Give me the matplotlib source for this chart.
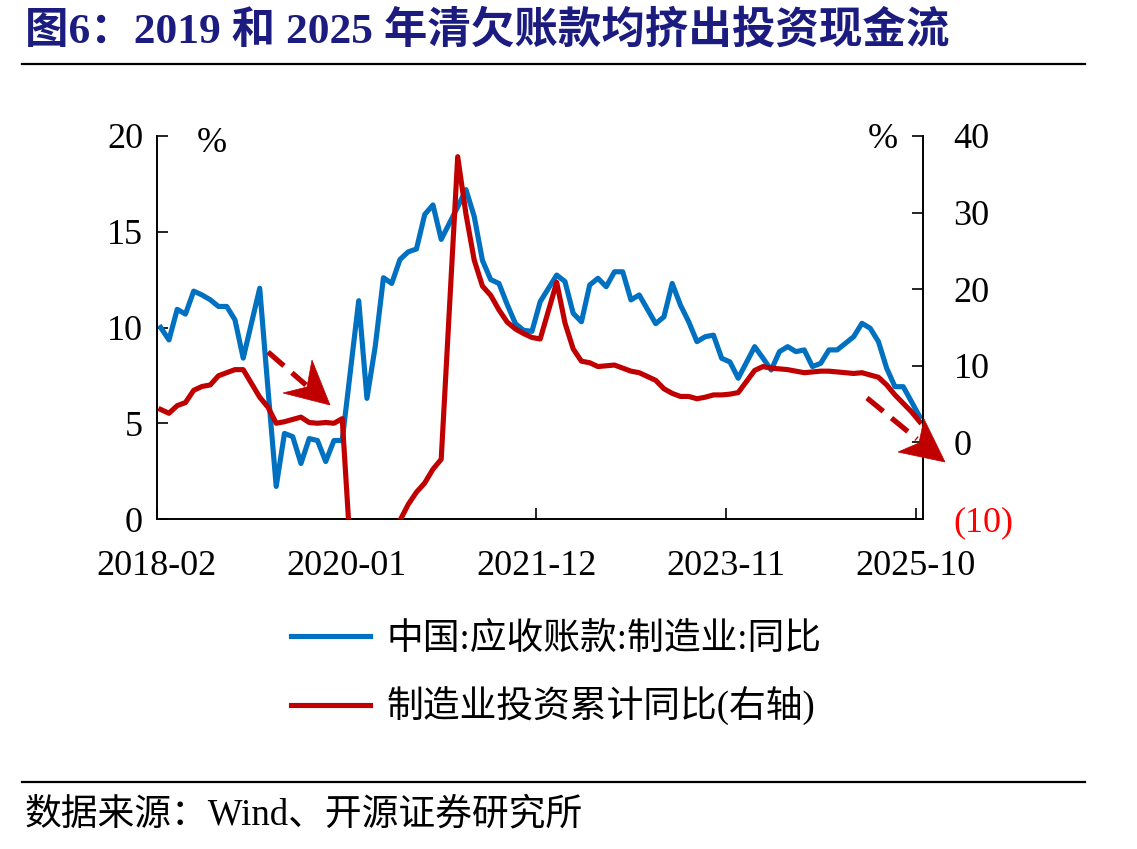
import matplotlib
matplotlib.use("Agg")
import matplotlib.pyplot as plt
from matplotlib.patches import Polygon
from matplotlib.lines import Line2D
from matplotlib.font_manager import FontProperties

# ---------------- data (monthly, Feb..Dec; January not published) ----------------
years = [2018, 2019, 2020, 2021, 2022, 2023, 2024, 2025]

# 中国:应收账款:制造业:同比 (%)
recv_2018 = [10.0, 9.35, 10.95, 10.7, 11.9, 11.7, 11.45, 11.1, 11.1, 10.4, 8.4]
recv_2019 = [12.05, 6.8, 1.7, 4.47, 4.3, 2.9, 4.2, 4.1, 3.0, 4.1, 4.1]
recv_2020 = [11.4, 6.3, 9.0, 12.6, 12.3, 13.55, 13.95, 14.1, 15.9, 16.4, 14.6]
recv_2021 = [16.3, 17.2, 15.8, 13.5, 12.5, 12.3, 11.2, 10.2, 9.85, 9.8, 11.35]
recv_2022 = [12.74, 12.4, 10.74, 10.3, 12.22, 12.57, 12.13, 12.91, 12.91, 11.44, 11.7]
recv_2023 = [10.2, 10.56, 12.3, 11.17, 10.3, 9.26, 9.52, 9.6, 8.39, 8.2, 7.35]
recv_2024 = [9.0, 8.4, 7.78, 8.74, 9.0, 8.74, 8.83, 7.96, 8.13, 8.83, 8.83]
recv_2025 = [9.52, 10.22, 9.96, 9.26, 7.87, 6.91, 6.91, 6.13, 5.34]

# 制造业投资累计同比 (%), right axis
inv_2018 = [4.3, 3.8, 4.8, 5.2, 6.8, 7.3, 7.5, 8.7, 9.1, 9.5, 9.5]
inv_2019 = [5.9, 4.6, 2.5, 2.7, 3.0, 3.3, 2.6, 2.5, 2.6, 2.5, 3.1]
inv_2020 = [-31.5, -25.2, -18.8, -14.8, -11.7, -10.2, -8.1, -6.5, -5.3, -3.5, -2.2]
inv_2021 = [37.3, 29.8, 23.8, 20.4, 19.2, 17.3, 15.7, 14.8, 14.2, 13.7, 13.5]
inv_2022 = [20.9, 15.6, 12.2, 10.6, 10.4, 9.9, 10.0, 10.1, 9.7, 9.3, 9.1]
inv_2023 = [8.1, 7.0, 6.4, 6.0, 6.0, 5.7, 5.9, 6.2, 6.2, 6.3, 6.5]
inv_2024 = [9.4, 9.9, 9.7, 9.6, 9.5, 9.3, 9.1, 9.2, 9.3, 9.3, 9.2]
inv_2025 = [9.0, 9.1, 8.8, 8.5, 7.5, 6.2, 5.1, 4.0, 2.7]

x_tick_labels = ["2018-02", "2020-01", "2021-12", "2023-11", "2025-10"]
left_ticks = [0, 5, 10, 15, 20]
right_ticks = [-10, 0, 10, 20, 30, 40]

label_recv = "中国:应收账款:制造业:同比"
label_inv = "制造业投资累计同比(右轴)"
title = "图6：2019 和 2025 年清欠账款均挤出投资现金流"
source = "数据来源：Wind、开源证券研究所"

# ---------------- helpers ----------------
def month_index(label):
    y, m = label.split("-")
    return (int(y) - 2018) * 12 + (int(m) - 2)

def build(lists):
    xs, ys = [], []
    for yr, vals in zip(years, lists):
        for k, v in enumerate(vals):
            xs.append((yr - 2018) * 12 + k)
            ys.append(v)
    return xs, ys

rx, ry = build([recv_2018, recv_2019, recv_2020, recv_2021, recv_2022, recv_2023, recv_2024, recv_2025])
ix, iy = build([inv_2018, inv_2019, inv_2020, inv_2021, inv_2022, inv_2023, inv_2024, inv_2025])

BLUE = "#0070C0"
RED = "#C00000"
SERIF = "Liberation Serif"
CJK = "Noto Sans CJK SC"
FW, FH = 1137, 849

fig = plt.figure(figsize=(FW / 100, FH / 100), dpi=100)
ax = fig.add_axes([157 / FW, 1 - 519 / FH, (923 - 157) / FW, (519 - 136) / FH])
ax2 = ax.twinx()

ax.plot(rx, ry, color=BLUE, lw=3.7, solid_joinstyle="round", label=label_recv)
ax2.plot(ix, iy, color=RED, lw=3.7, solid_joinstyle="round", label=label_inv)

ax.set_xlim(-0.4, 92.4)
ax.set_ylim(0, 20)
ax2.set_ylim(-10, 40)

tick_pos = [month_index(l) - 0.45 for l in x_tick_labels]
ax.set_xticks(tick_pos)
ax.set_xticklabels(x_tick_labels, fontfamily=SERIF, fontsize=26)
ax.set_yticks(left_ticks)
ax.set_yticklabels([str(t) for t in left_ticks], fontfamily=SERIF, fontsize=26)
ax2.set_yticks(right_ticks)
ax2.set_yticklabels([f"({abs(t)})" if t < 0 else str(t) for t in right_ticks],
                    fontfamily=SERIF, fontsize=26)
for lab, t in zip(ax2.get_yticklabels(), right_ticks):
    if t < 0:
        lab.set_color("red")

for a in (ax, ax2):
    a.spines["top"].set_visible(False)
    for s in a.spines.values():
        s.set_linewidth(1.4)
ax.spines["right"].set_visible(False)
ax2.spines["left"].set_visible(False)
ax2.spines["bottom"].set_visible(False)

ax.tick_params(axis="x", direction="in", length=8, width=1.2, pad=22)
ax.tick_params(axis="y", direction="in", length=8, width=1.2, pad=10)
ax2.tick_params(axis="y", direction="in", length=8, width=1.2, pad=22)

# % units
fig.text(212 / FW, 1 - 143 / FH, "%", fontfamily=SERIF, fontsize=26, ha="center", va="center")
fig.text(883 / FW, 1 - 140 / FH, "%", fontfamily=SERIF, fontsize=26, ha="center", va="center")

# dashed arrows (annotation)
def px(x, y):
    return (x / FW, 1 - y / FH)

def dashed_arrow(start, shaft_end, tip, wing1, notch, wing2):
    l = Line2D([px(*start)[0], px(*shaft_end)[0]], [px(*start)[1], px(*shaft_end)[1]],
               transform=fig.transFigure, color=RED, lw=3.8, linestyle=(0, (4.0, 2.0)),
               solid_capstyle="butt", dash_capstyle="butt")
    fig.add_artist(l)
    poly = Polygon([px(*tip), px(*wing1), px(*notch), px(*wing2)], closed=True,
                   transform=fig.transFigure, facecolor=RED, edgecolor=RED, lw=0.5)
    fig.add_artist(poly)

dashed_arrow((268, 352), (306, 385), (330, 405), (312, 360), (307, 387), (283, 393))
dashed_arrow((867, 398), (917, 439), (945, 462), (924, 419), (919, 443), (898, 452))

# legend
leg = fig.legend(handles=ax.get_lines() + ax2.get_lines(),
                 labels=[label_recv, label_inv],
                 loc="upper left", bbox_to_anchor=(291 / FW, 1 - 622 / FH),
                 frameon=False, prop=FontProperties(family=[SERIF, CJK], size=26.5),
                 handlelength=2.15, handletextpad=0.45, labelspacing=0.82,
                 borderpad=0, borderaxespad=0)

# title, rules, source
fig.text(25 / FW, 1 - 31 / FH, title, fontsize=31.3, fontweight="bold", color="#1c1c80",
         family=[SERIF, CJK], ha="left", va="center")
fig.add_artist(Line2D([22 / FW, 1085 / FW], [1 - 64 / FH, 1 - 64 / FH],
                      transform=fig.transFigure, color="black", lw=1.6))
fig.add_artist(Line2D([22 / FW, 1085 / FW], [1 - 782 / FH, 1 - 782 / FH],
                      transform=fig.transFigure, color="black", lw=1.6))
fig.text(25 / FW, 1 - 815 / FH, source, fontsize=26.5, family=[SERIF, CJK],
         ha="left", va="center")

fig.savefig("out.png", dpi=100)
